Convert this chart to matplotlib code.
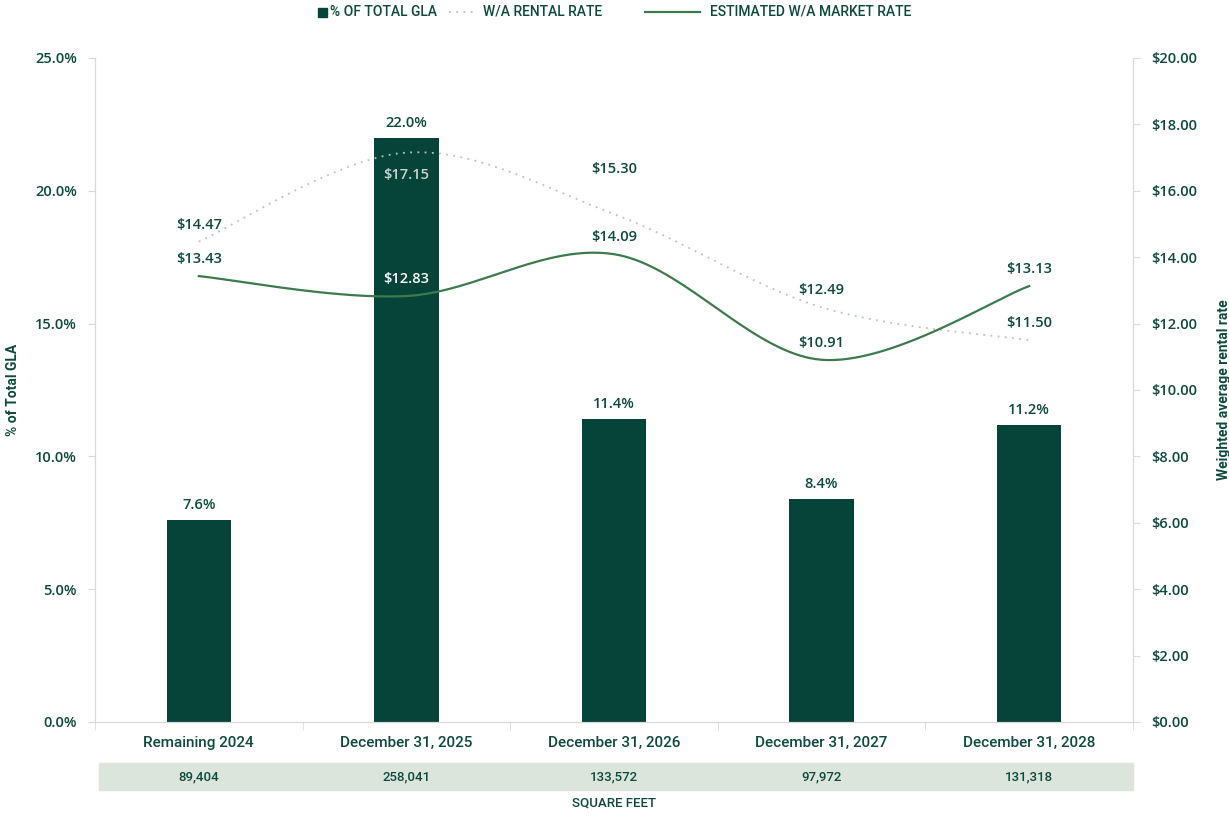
import numpy as np
import matplotlib.pyplot as plt
from matplotlib.patches import Rectangle
from matplotlib.lines import Line2D
from matplotlib import transforms

# lease expiry schedule
periods = ['Remaining 2024', 'December 31, 2025', 'December 31, 2026',
           'December 31, 2027', 'December 31, 2028']
pct_gla = [7.6, 22.0, 11.4, 8.4, 11.2]
rental_rate = [14.47, 17.15, 15.30, 12.49, 11.50]
market_rate = [13.43, 12.83, 14.09, 10.91, 13.13]
square_feet = ['89,404', '258,041', '133,572', '97,972', '131,318']

DARK = '#06443a'
TEXT = '#0d4a3d'
LINE = '#3e7b4c'
DOTS = '#b7c3c0'
GRID = '#d9d9d9'
BAND = '#dbe5dc'

LABEL_FONT = ['Roboto', 'DejaVu Sans']
NUM_FONT = ['Open Sans', 'DejaVu Sans']


def smooth(x, y, n=40):
    # Catmull-Rom curve through the points, like a spreadsheet "smoothed line"
    x = np.asarray(x, float)
    y = np.asarray(y, float)
    px = np.concatenate([[x[0]], x, [x[-1]]])
    py = np.concatenate([[y[0]], y, [y[-1]]])
    xs, ys = [], []
    t = np.linspace(0, 1, n)
    for i in range(1, len(px) - 2):
        p0, p1, p2, p3 = [np.array([px[j], py[j]]) for j in (i - 1, i, i + 1, i + 2)]
        c1 = p1 + (p2 - p0) / 6
        c2 = p2 - (p3 - p1) / 6
        pts = ((1 - t) ** 3)[:, None] * p1 + (3 * (1 - t) ** 2 * t)[:, None] * c1 \
            + (3 * (1 - t) * t ** 2)[:, None] * c2 + (t ** 3)[:, None] * p2
        xs.extend(pts[:, 0])
        ys.extend(pts[:, 1])
    return np.array(xs), np.array(ys)


fig = plt.figure(figsize=(12.29, 8.18), dpi=100)
ax = fig.add_axes([0.0773, 0.1174, 0.8446, 0.8117])
ax2 = ax.twinx()

num_kw = dict(family=NUM_FONT, fontsize=10.5, color=TEXT, fontweight='semibold')

x = np.arange(len(periods))
ax.bar(x, pct_gla, width=0.31, color=DARK, zorder=2)
ax.set_xlim(-0.5, len(periods) - 0.5)
ax.set_ylim(0, 25)
ax.set_yticks(np.arange(0, 25.1, 5))
ax.set_yticklabels([f'{v:.1f}%' for v in np.arange(0, 25.1, 5)], **num_kw)
ax.set_xticks(x)
ax.set_xticklabels(periods, family=LABEL_FONT, fontsize=11, color=TEXT,
                   fontweight='medium')
ax.set_xticks(np.arange(-0.5, len(periods), 1), minor=True)
ax.tick_params(axis='x', which='major', length=0, pad=10)
ax.tick_params(axis='x', which='minor', length=6, color=GRID)
ax.tick_params(axis='y', length=5, color=GRID, pad=8)
ax.set_ylabel('% of Total GLA', family=LABEL_FONT, fontsize=10,
              fontweight='bold', color=TEXT)
ax.yaxis.set_label_coords(-0.072, 0.5)

for a in (ax, ax2):
    a.spines['top'].set_visible(False)
    for s in ('left', 'right', 'bottom'):
        a.spines[s].set_color(GRID)

for xi, v in zip(x, pct_gla):
    ax.text(xi, v + 0.3, f'{v:.1f}%', ha='center', va='bottom', **num_kw)

ax2.set_ylim(0, 20)
ax2.set_yticks(np.arange(0, 20.1, 2))
ax2.set_yticklabels([f'${v:.2f}' for v in np.arange(0, 20.1, 2)], **num_kw)
ax2.tick_params(axis='y', length=5, color=GRID, pad=8)
ax2.set_ylabel('Weighted average rental rate', family=LABEL_FONT, fontsize=10,
               fontweight='bold', color=TEXT, rotation=90)
ax2.yaxis.set_label_coords(1.081, 0.5)

sx, sy = smooth(x, rental_rate)
ax2.plot(sx, sy, color=DOTS, lw=1.3, ls=(0, (1, 3)), zorder=3)
sx, sy = smooth(x, market_rate)
ax2.plot(sx, sy, color=LINE, lw=1.6, zorder=3)

# rental label offsets (data units); the 2026 one sits higher to clear the market label
rental_offset = [0.3, None, 1.15, 0.3, 0.3]
for i, (xi, v) in enumerate(zip(x, rental_rate)):
    if i == 1:
        ax2.text(xi, v - 0.45, f'${v:.2f}', ha='center', va='top',
                 **{**num_kw, 'color': '#c9d5d1'})
    else:
        ax2.text(xi, v + rental_offset[i], f'${v:.2f}', ha='center', va='bottom',
                 **num_kw)
for i, (xi, v) in enumerate(zip(x, market_rate)):
    ax2.text(xi, v + 0.3, f'${v:.2f}', ha='center', va='bottom',
             **{**num_kw, 'color': 'white' if i == 1 else TEXT})

# square footage band under the axis
fig.patches.append(Rectangle((0.0806, 0.0342), 0.8413, 0.033,
                             transform=fig.transFigure, color=BAND, zorder=0))
blend = transforms.blended_transform_factory(ax.transData, fig.transFigure)
for xi, sf in zip(x, square_feet):
    fig.text(xi, 0.0507, sf, transform=blend, ha='center', va='center',
             family=LABEL_FONT, fontsize=9.5, color=TEXT, fontweight='medium')
fig.text(2.0, 0.0183, 'SQUARE FEET', transform=blend, ha='center', va='center',
         family=LABEL_FONT, fontsize=9.5, color=TEXT, fontweight='medium')

# legend row across the top
W, H = 1229, 818
ly = 1 - 12 / H
leg_kw = dict(family=LABEL_FONT, fontsize=10, fontweight='medium', color=TEXT,
              va='center', ha='left')
fig.patches.append(Rectangle((318 / W, ly - 4.5 / H), 9 / W, 9 / H,
                             transform=fig.transFigure, color=DARK))
fig.text(330 / W, ly, '% OF TOTAL GLA', **leg_kw)
fig.add_artist(Line2D([449 / W, 476 / W], [ly, ly], transform=fig.transFigure,
                      color=DOTS, lw=1.3, ls=(0, (1, 3))))
fig.text(483 / W, ly, 'W/A RENTAL RATE', **leg_kw)
fig.add_artist(Line2D([645 / W, 700 / W], [ly, ly], transform=fig.transFigure,
                      color=LINE, lw=1.6))
fig.text(710 / W, ly, 'ESTIMATED W/A MARKET RATE', **leg_kw)

fig.savefig('out.png', dpi=100)
